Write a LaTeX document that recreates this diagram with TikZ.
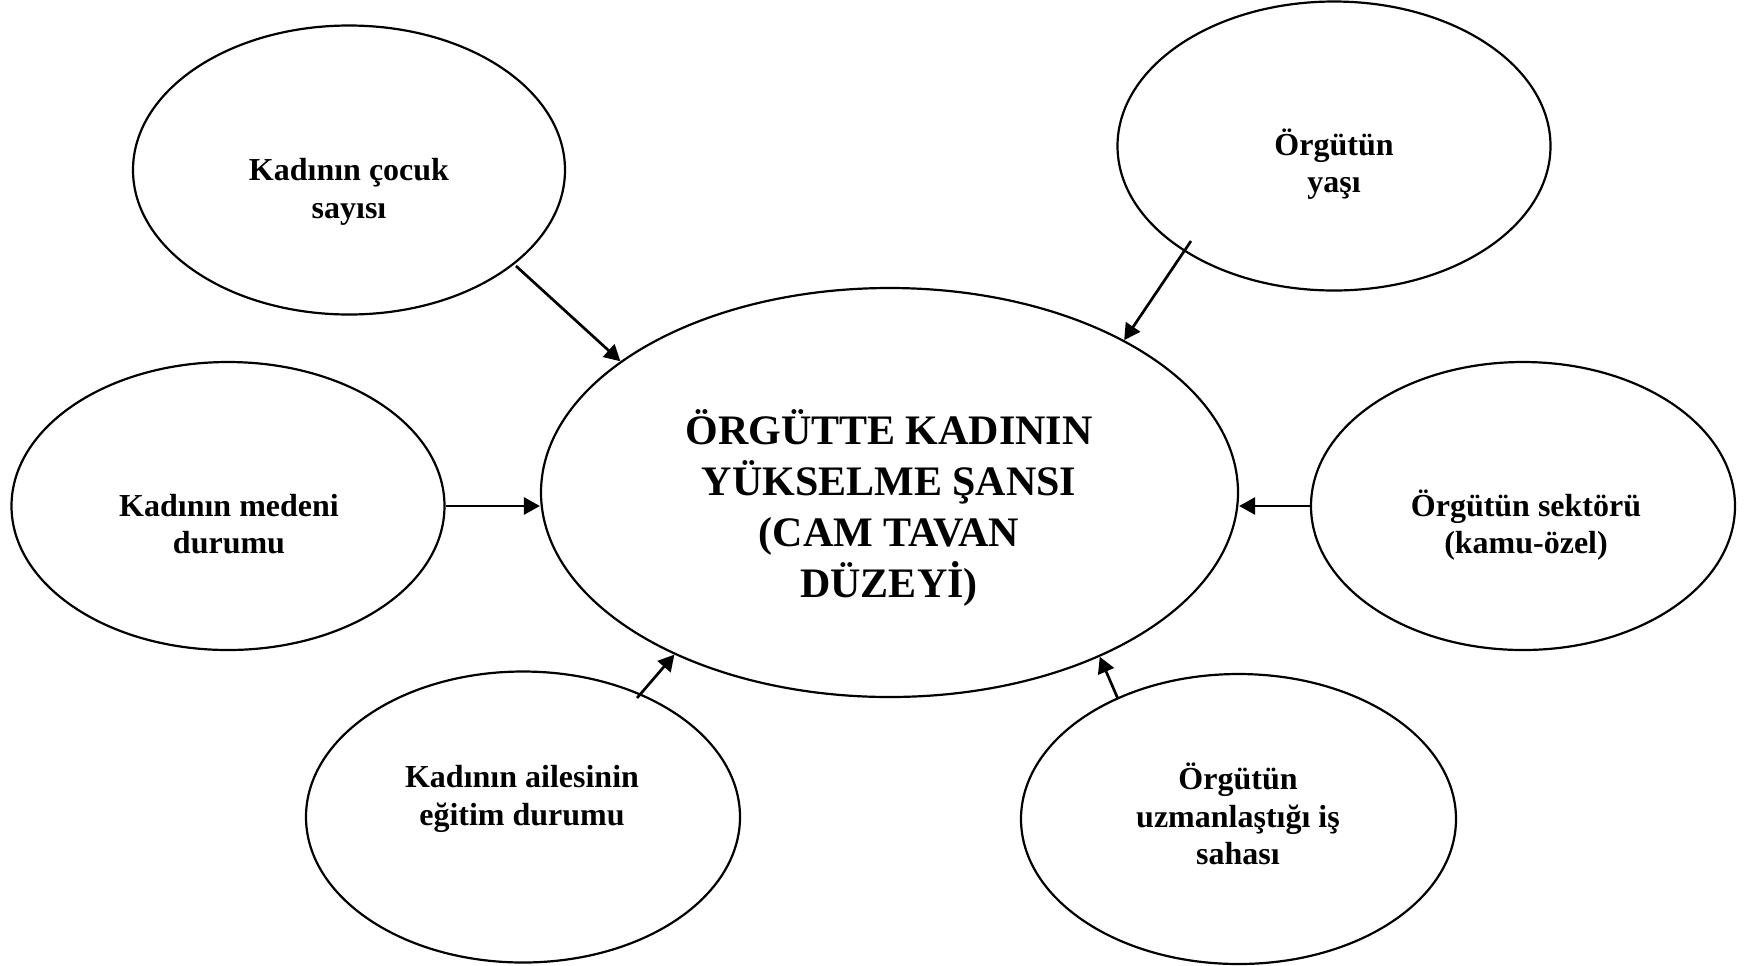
\documentclass[tikz,border=0pt]{standalone}
\usepackage{fontspec}
\setmainfont{Liberation Serif}
\usetikzlibrary{shapes.geometric,arrows.meta}
\begin{document}
\begin{tikzpicture}[x=0.5pt,y=-0.5pt,
  oval/.style={draw, ellipse, line width=1.1pt, inner sep=0pt},
  small/.style={align=center, font=\fontsize{16}{18.8}\selectfont\bfseries, inner sep=0pt},
  big/.style={align=center, font=\fontsize{21}{25.5}\selectfont\bfseries, inner sep=0pt},
  conn/.style={line width=1.35pt, -{Triangle[length=8pt,width=8.5pt]}}]
\useasboundingbox (0,0) rectangle (1749,965);
% ellipses
\node[oval, minimum width=697pt/2, minimum height=409pt/2] (main) at (889.5,492.5) {};
\node[oval, minimum width=432pt/2, minimum height=289pt/2] (kc) at (349,170) {};
\node[oval, minimum width=433pt/2, minimum height=289pt/2] (oy) at (1334,146) {};
\node[oval, minimum width=433pt/2, minimum height=288pt/2] (km) at (228,506) {};
\node[oval, minimum width=424pt/2, minimum height=288pt/2] (os) at (1523,506) {};
\node[oval, minimum width=434pt/2, minimum height=291pt/2] (ka) at (523,817) {};
\node[oval, minimum width=435pt/2, minimum height=290pt/2] (ou) at (1238.5,819) {};
% texts
\node[big] (maint) at (889,508) {ÖRGÜTTE KADININ\\YÜKSELME ŞANSI\\(CAM TAVAN\\DÜZEYİ)};
\node[small] (kct) at (349,192) {Kadının çocuk\\sayısı};
\node[small] (oyt) at (1334,164) {Örgütün\\yaşı};
\node[small] (kmt) at (229,524) {Kadının medeni\\durumu};
\node[small] (ost) at (1526,525) {Örgütün sektörü\\(kamu-özel)};
\node[small] (kat) at (522,799) {Kadının ailesinin\\eğitim durumu};
\node[small] (out) at (1238,814) {Örgütün\\uzmanlaştığı iş\\sahası};
% arrow start points
\coordinate (a1s) at (516,266);
\coordinate (a2s) at (1191,241);
\coordinate (a5s) at (637,698);
\coordinate (a6s) at (1118,699);
% connectors
\draw[conn] (a1s) -- (main.154.6);
\draw[conn] (a2s) -- (main.33.9);
\draw[conn] (km.east) -- (km.east -| main.west);
\draw[conn] (os.west) -- (os.west -| main.east);
\draw[conn] (a5s) -- (main.217.9);
\draw[conn] (a6s) -- (main.322.4);
\end{tikzpicture}
\end{document}
